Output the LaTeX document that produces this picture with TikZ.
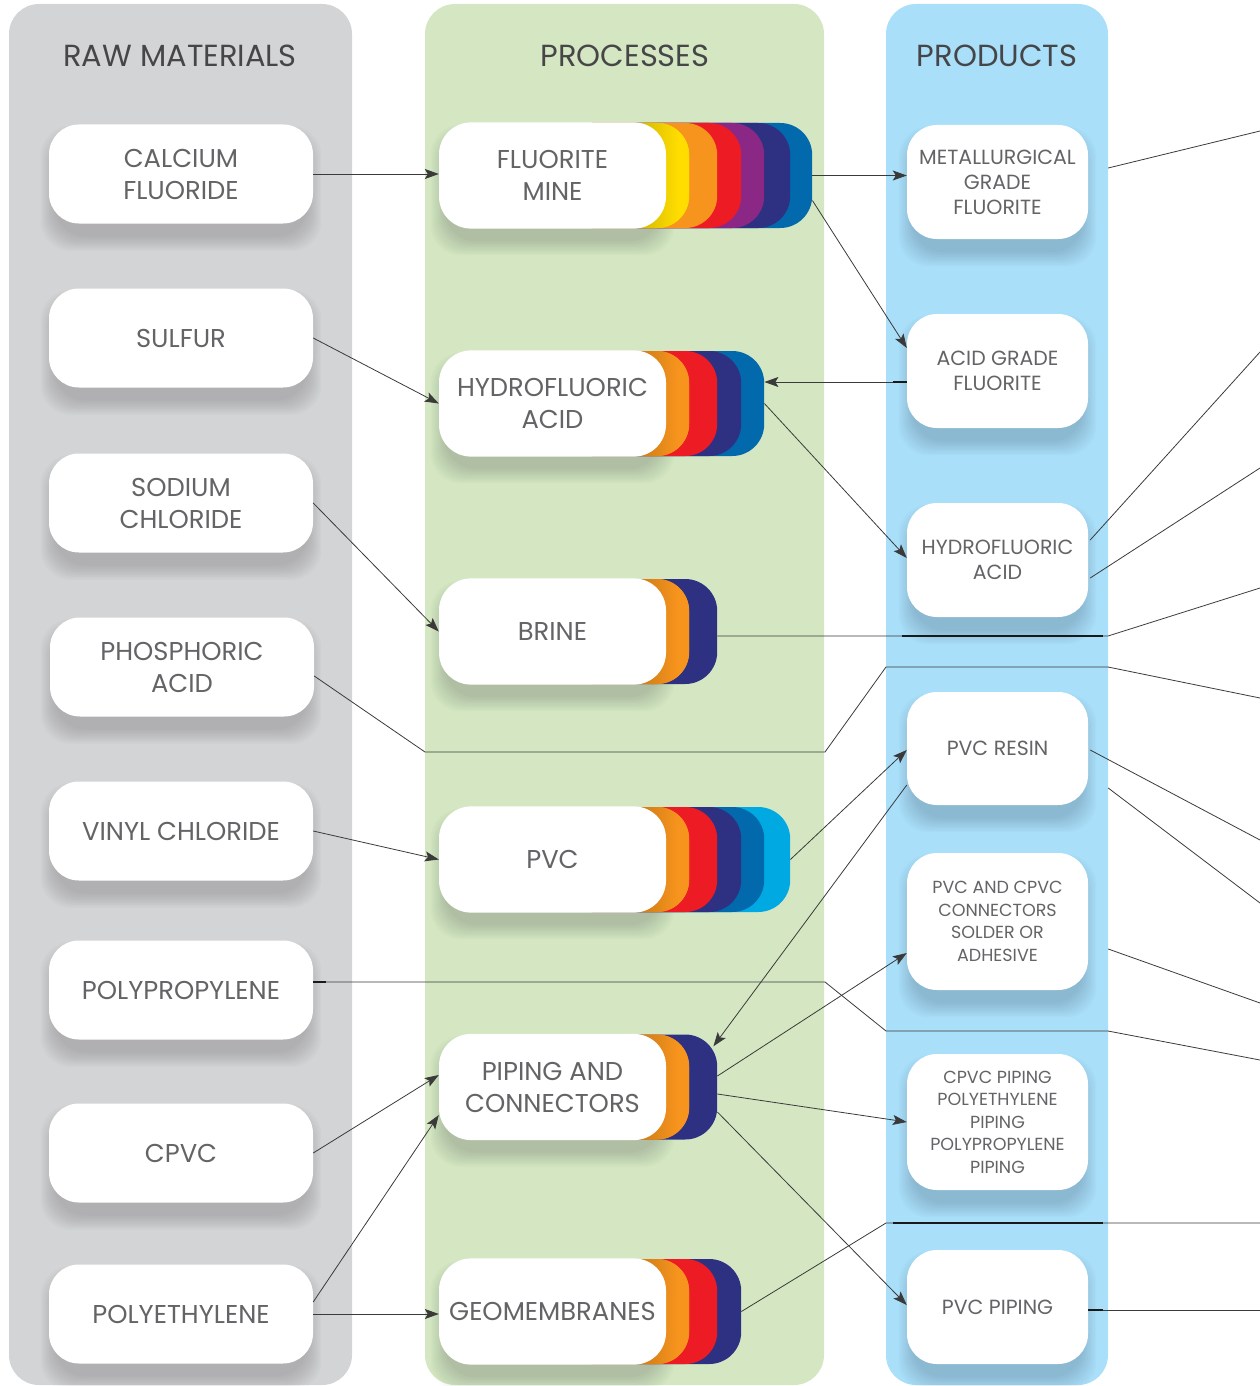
\documentclass[tikz,border=0pt]{standalone}
\usepackage{fontspec}
\setmainfont{Poppins}
\usetikzlibrary{arrows.meta,calc}
\definecolor{colGray}{HTML}{D3D4D6}
\definecolor{colGreen}{HTML}{D4E7C2}
\definecolor{colBlue}{HTML}{A9DFF9}
\definecolor{cYellow}{HTML}{FFDD00}
\definecolor{cOrange}{HTML}{F7941D}
\definecolor{cRed}{HTML}{ED1C24}
\definecolor{cPurple}{HTML}{8B2886}
\definecolor{cNavy}{HTML}{2E3182}
\definecolor{cBlue}{HTML}{0169AC}
\definecolor{cCyan}{HTML}{00A9E2}
\definecolor{txt}{HTML}{636466}
\definecolor{ttl}{HTML}{464648}
\definecolor{lnc}{HTML}{3A3A3A}
\newcommand\mkshadow[4]{%
  \foreach \k in {0,...,9}{%
    \fill[black, opacity=0.015, rounded corners=30pt]
      ({#1+6-1.6*\k},{#2+16-1.6*\k}) rectangle ({#3-6+1.6*\k},{#4+13+1.6*\k});
  }}
\begin{document}
\begin{tikzpicture}[x=1pt,y=-1pt,
  box/.style={draw=none, fill=white, rounded corners=30pt, align=center, text=txt, inner sep=0pt},
  rawbox/.style={box, minimum width=264pt, minimum height=99pt, font=\fontsize{25.8}{32}\selectfont},
  procbox/.style={box, rounded corners=32pt, minimum width=227pt, minimum height=106.2pt, font=\fontsize{25.8}{32}\selectfont},
  prodbox/.style={box, minimum width=181pt, minimum height=114pt, font=\fontsize{20.5}{25}\selectfont},
  smallprod/.style={prodbox, minimum height=137pt, font=\fontsize{17.5}{22.5}\selectfont},
  layer/.style={draw=none, fill=#1, rounded corners=32pt, minimum height=105pt, anchor=west, inner sep=0pt},
  title/.style={text=ttl, font=\fontsize{30.5}{34}\selectfont},
  ln/.style={draw=lnc, line width=0.8pt},
  arr/.style={ln, -{Stealth[length=14pt,width=10pt,inset=3pt]}},
  thk/.style={draw=black!90, line width=1.7pt}
]
\useasboundingbox (0,0) rectangle (1260,1386);
% columns
\fill[colGray, rounded corners=30pt] (9,4) rectangle (352,1385);
\fill[colGreen, rounded corners=30pt] (425,4) rectangle (824,1385);
\fill[colBlue, rounded corners=30pt] (886,4) rectangle (1108,1385);
% titles
\node[title] (t1) at (180,56) {RAW MATERIALS};
\node[title] (t2) at (625,56) {PROCESSES};
\node[title] (t3) at (997,56) {PRODUCTS};
% soft shadows
\foreach \cy in {174,338,503,667,831,990,1153,1314}
  \mkshadow{49}{\cy-49.5}{313}{\cy+49.5};
\foreach \cy in {175.5,403.5,631.5,859.5,1087,1311.5}
  \mkshadow{439}{\cy-52.5}{666}{\cy+52.5};
\foreach \cy/\h in {182/114,371/114,560/114,748.5/113,921.5/137,1122/136,1307/114}
  \mkshadow{907}{\cy-\h/2}{1088}{\cy+\h/2};
% colour stacks
\foreach \r/\c [count=\i] in {812/cBlue,790/cNavy,764/cPurple,741/cRed,717/cOrange,689/cYellow}
  \node[layer=\c, minimum width={\r-560}] (fm\i) at (560,175.5) {};
\foreach \r/\c [count=\i] in {764/cBlue,741/cNavy,717/cRed,689/cOrange}
  \node[layer=\c, minimum width={\r-560}] (hf\i) at (560,403.5) {};
\foreach \r/\c [count=\i] in {717/cNavy,689/cOrange}
  \node[layer=\c, minimum width={\r-560}] (br\i) at (560,631.5) {};
\foreach \r/\c [count=\i] in {790/cCyan,764/cBlue,741/cNavy,717/cRed,689/cOrange}
  \node[layer=\c, minimum width={\r-560}] (pv\i) at (560,859.5) {};
\foreach \r/\c [count=\i] in {717/cNavy,689/cOrange}
  \node[layer=\c, minimum width={\r-560}] (pc\i) at (560,1087) {};
\foreach \r/\c [count=\i] in {741/cNavy,717/cRed,689/cOrange}
  \node[layer=\c, minimum width={\r-560}] (gm\i) at (560,1311.5) {};
% inner gradient on first colour layer
\foreach \cy/\c in {175.5/cYellow,403.5/cOrange,631.5/cOrange,859.5/cOrange,1087/cOrange,1311.5/cOrange}{
  \begin{scope}
    \clip[rounded corners=32pt] (560,\cy-52.5) rectangle (689,\cy+52.5);
    \shade[left color=\c!84!black, right color=\c] (640,\cy-52.5) rectangle (678,\cy+52.5);
    \fill[\c] (678,\cy-52.5) rectangle (690,\cy+52.5);
  \end{scope}}
% raw material boxes
\node[rawbox] (cf) at (181,174) {CALCIUM\\FLUORIDE};
\node[rawbox] (su) at (181,338) {SULFUR};
\node[rawbox] (sc) at (181,503) {SODIUM\\CHLORIDE};
\node[rawbox] (pa) at (182,667) {PHOSPHORIC\\ACID};
\node[rawbox] (vc) at (181,831) {VINYL CHLORIDE};
\node[rawbox] (pp) at (181,990) {POLYPROPYLENE};
\node[rawbox] (cp) at (181,1153) {CPVC};
\node[rawbox] (pe) at (181,1314) {POLYETHYLENE};
% process boxes
\node[procbox] (fm) at (552.5,175.5) {FLUORITE\\MINE};
\node[procbox] (hf) at (552.5,403.5) {HYDROFLUORIC\\ACID};
\node[procbox] (br) at (552.5,631.5) {BRINE};
\node[procbox] (pv) at (552.5,859.5) {PVC};
\node[procbox] (pc) at (552.5,1087) {PIPING AND\\CONNECTORS};
\node[procbox] (gm) at (552.5,1311.5) {GEOMEMBRANES};
% product boxes
\node[prodbox] (mg) at (997.5,182) {METALLURGICAL\\GRADE\\FLUORITE};
\node[prodbox] (ag) at (997.5,371) {ACID GRADE\\FLUORITE};
\node[prodbox] (ha) at (997.5,560) {HYDROFLUORIC\\ACID};
\node[prodbox, minimum height=113pt] (pr) at (997.5,748.5) {PVC RESIN};
\node[smallprod] (cc) at (997.5,921.5) {PVC AND CPVC\\CONNECTORS\\SOLDER OR\\ADHESIVE};
\node[smallprod, minimum height=136pt] (cpp) at (997.5,1122) {CPVC PIPING\\POLYETHYLENE\\PIPING\\POLYPROPYLENE\\PIPING};
\node[prodbox] (pvp) at (997.5,1307) {PVC PIPING};
% bend and exit coordinates
\coordinate (p1) at (425,752); \coordinate (p2) at (825,752);
\coordinate (p3) at (886,667); \coordinate (p4) at (1108,667);
\coordinate (pOut) at (1260,698);
\coordinate (q1) at (825,982); \coordinate (q2) at (886,1031);
\coordinate (q3) at (1108,1031); \coordinate (qOut) at (1260,1060);
\coordinate (r1) at (1108,636); \coordinate (rOut) at (1260,588);
\coordinate (s1) at (886,1223); \coordinate (sOut) at (1260,1223);
\coordinate (o1) at (1260,131); \coordinate (o2) at (1260,352);
\coordinate (o3) at (1260,468); \coordinate (o4) at (1260,840);
\coordinate (o5) at (1260,903); \coordinate (o6) at (1260,1003);
\coordinate (o7) at (1260,1310);
% raw -> process
\draw[arr] (cf.east) -- (cf.east -| fm.west);
\draw[arr] (su.east) -- (hf.west);
\draw[arr] (sc.east) -- (br.west);
\draw[ln] ([yshift=-9pt]pa.east) -- (p1) -- (p2) -- (p3) -- (p4) -- (pOut);
\draw[arr] (vc.east) -- (pv.west);
\draw[ln] ([yshift=8pt]pp.east) -- (q1) -- (q2) -- (q3) -- (qOut);
\draw[arr] (cp.east) -- ([yshift=12pt]pc.west);
\draw[arr] ([yshift=12pt]pe.east) -- ([yshift=-28pt]pc.west);
\draw[arr] (pe.east) -- (pe.east -| gm.west);
% process <-> product
\draw[arr] (fm1.east) -- (fm1.east -| mg.west);
\draw[arr] ([yshift=-25pt]fm1.east) -- ([yshift=23pt]ag.west);
\draw[arr] ([yshift=-11pt]ag.west) -- ([yshift=-11pt]ag.west -| hf1.east);
\draw[arr] (hf1.east) -- ([yshift=2pt]ha.west);
\draw[ln] ([yshift=-4.5pt]br1.east) -- (r1) -- (rOut);
\draw[arr] (pv1.east) -- ([yshift=-1.5pt]pr.west);
\draw[arr] ([yshift=-36.5pt]pr.west) -- ([xshift=-4pt,yshift=-12pt]pc1.north east);
\draw[arr] ([yshift=11pt]pc1.east) -- ([yshift=-31.5pt]cc.west);
\draw[arr] ([yshift=-7pt]pc1.east) -- (cpp.west);
\draw[arr] ([yshift=-25pt]pc1.east) -- ([yshift=2pt]pvp.west);
\draw[ln] (gm1.east) -- (s1) -- (sOut);
% product -> out
\draw[ln] ([xshift=20pt,yshift=14pt]mg.east) -- (o1);
\draw[ln] ([xshift=2pt,yshift=20pt]ha.east) -- (o2);
\draw[ln] ([xshift=2pt,yshift=-18pt]ha.east) -- (o3);
\draw[ln] ([xshift=2pt,yshift=-1.5pt]pr.east) -- (o4);
\draw[ln] ([xshift=20pt,yshift=-39.5pt]pr.east) -- (o5);
\draw[ln] ([xshift=20pt,yshift=-27.5pt]cc.east) -- (o6);
\draw[ln] ([yshift=-3pt]pvp.east) -- (o7);
% heavier overlapping segments
\draw[thk] ([yshift=-11pt]ag.west) -- ++(-14,0);
\draw[thk] ([xshift=-5pt]r1 -| ag.west) -- ([xshift=-5pt]r1);
\draw[thk] ([xshift=7pt]s1) -- ([xshift=-5pt]s1 -| r1);
\draw[thk] ([yshift=-3pt]pvp.east) -- ++(15,0);
\draw[thk] ([yshift=8pt]pp.east) -- ++(13,0);
\end{tikzpicture}
\end{document}
